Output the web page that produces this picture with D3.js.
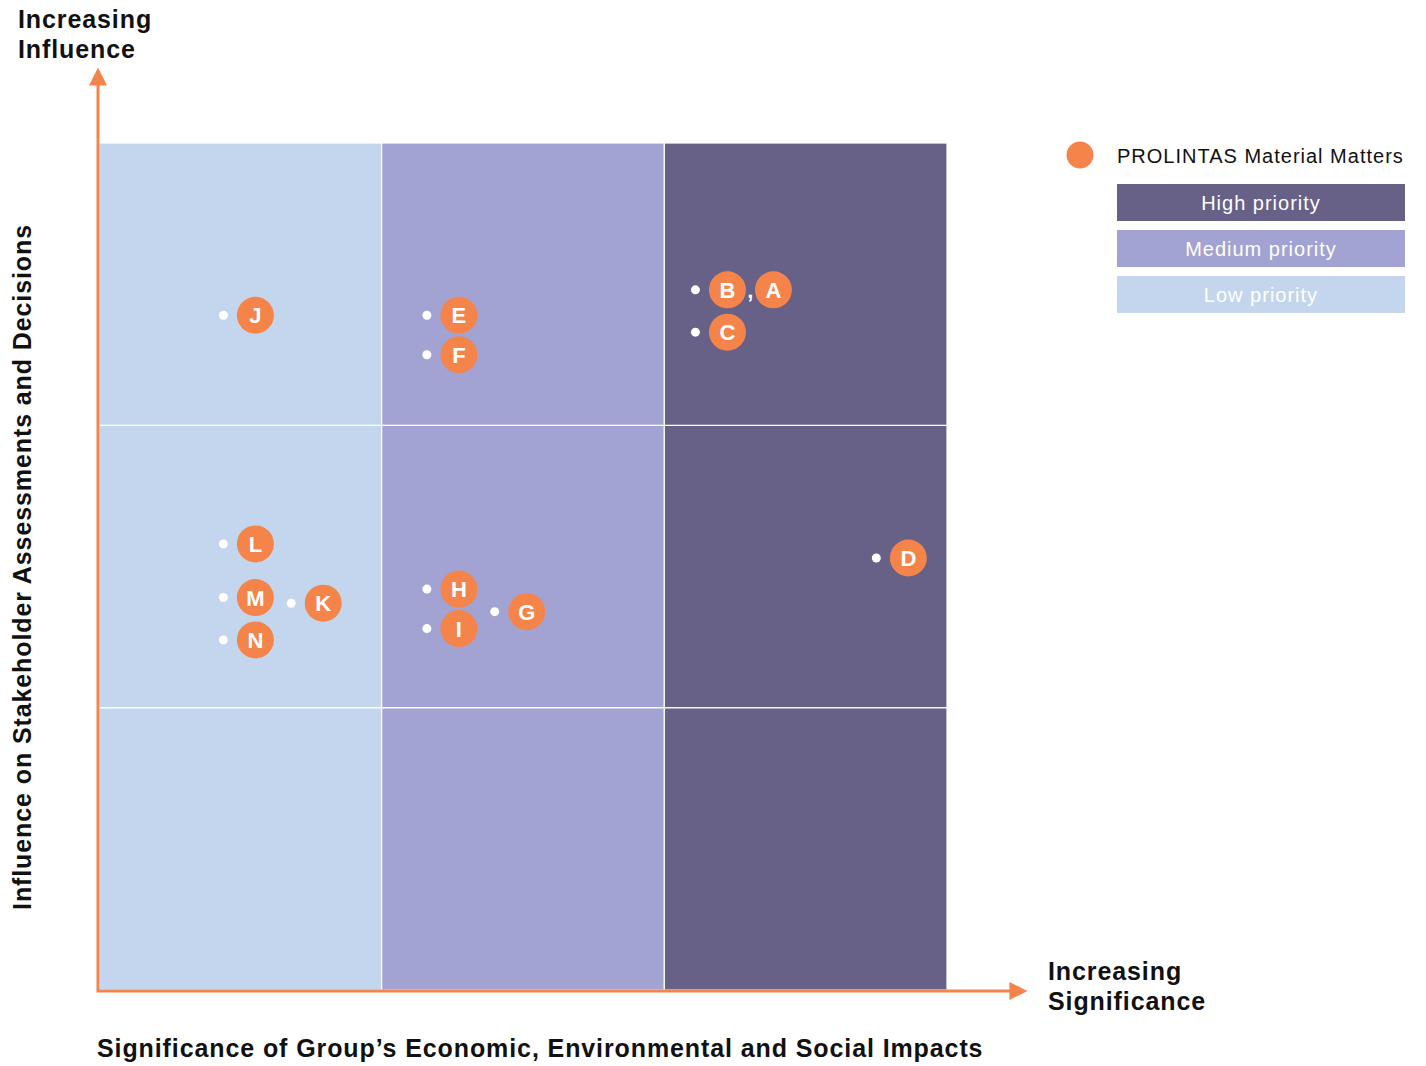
<!DOCTYPE html>
<html lang="en">
<head>
<meta charset="utf-8">
<script src="https://d3js.org/d3.v7.min.js"></script>
<style>
  body { margin: 0; background: #fff; }
  text { font-family: "Liberation Sans", Arial, sans-serif; }
</style>
</head>
<body>
<script>
  // priority bands by column (significance)
  const columns = ["Low", "Medium", "High"];
  const rows = ["Low", "Medium", "High"];
  const colColours = ["#c4d6ed", "#a2a3d3", "#676087"];

  // material matters: dot position in grid units (0-3), labels next to dot
  const matterLabels = [["J"], ["E"], ["F"], ["B", "A"], ["C"], ["D"], ["L"], ["M"], ["K"], ["N"], ["H"], ["I"], ["G"]];
  const matterX = [0.44, 1.16, 1.16, 2.11, 2.11, 2.75, 0.44, 0.44, 0.68, 0.44, 1.16, 1.16, 1.40];
  const matterY = [2.39, 2.39, 2.25, 2.48, 2.33, 1.53, 1.58, 1.39, 1.37, 1.24, 1.42, 1.28, 1.34];

  const legendItems = ["High priority", "Medium priority", "Low priority"];
  const legendColours = ["#676087", "#a2a3d3", "#c4d6ed"];

  const orange = "#f5844a";
  const W = 1426, H = 1066;
  const margin = {left: 99, top: 143};
  const plotW = 848, plotH = 847;

  const svg = d3.select("body").append("svg")
    .attr("width", W).attr("height", H);

  const x = d3.scaleLinear().domain([0, 3]).range([margin.left, margin.left + plotW]);
  const y = d3.scaleLinear().domain([0, 3]).range([margin.top + plotH, margin.top]);
  const band = d3.scaleBand().domain(columns).range([margin.left, margin.left + plotW]);
  const rowBand = d3.scaleBand().domain(rows.slice().reverse()).range([margin.top, margin.top + plotH]);

  // cells
  const cells = [];
  columns.forEach(function(c, i) {
    rows.forEach(function(r) { cells.push({col: c, row: r, colour: colColours[i]}); });
  });
  svg.append("g").selectAll("rect")
    .data(cells).enter().append("rect")
    .attr("x", function(d) { return band(d.col); })
    .attr("y", function(d) { return rowBand(d.row); })
    .attr("width", band.bandwidth())
    .attr("height", rowBand.bandwidth())
    .attr("fill", function(d) { return d.colour; })
    .attr("stroke", "#fff")
    .attr("stroke-width", 1.2);

  // axes
  svg.append("defs").append("marker")
    .attr("id", "arrow").attr("viewBox", "0 0 10 10")
    .attr("refX", 2).attr("refY", 5)
    .attr("markerWidth", 6).attr("markerHeight", 6)
    .attr("orient", "auto-start-reverse")
    .append("path").attr("d", "M0,0L10,5L0,10Z").attr("fill", orange);

  svg.append("line")
    .attr("x1", x(0) - 1).attr("y1", y(0))
    .attr("x2", x(0) - 1).attr("y2", 82)
    .attr("stroke", orange).attr("stroke-width", 3)
    .attr("marker-end", "url(#arrow)");
  svg.append("line")
    .attr("x1", x(0) - 2.5).attr("y1", y(0) + 1)
    .attr("x2", 1013).attr("y2", y(0) + 1)
    .attr("stroke", orange).attr("stroke-width", 3)
    .attr("marker-end", "url(#arrow)");

  // axis titles
  const bold = {"font-weight": "bold", "font-size": "25px", "fill": "#111", "letter-spacing": "0.9px"};
  function addText(g, tx, ty, str, extra) {
    const t = g.append("text").attr("x", tx).attr("y", ty).text(str);
    Object.entries(Object.assign({}, bold, extra || {})).forEach(function(e) { t.attr(e[0], e[1]); });
    return t;
  }
  addText(svg, 18, 28, "Increasing");
  addText(svg, 18, 58, "Influence");
  addText(svg, 1048, 980, "Increasing");
  addText(svg, 1048, 1010, "Significance");
  addText(svg, 97, 1057, "Significance of Group\u2019s Economic, Environmental and Social Impacts");
  addText(svg, 0, 0, "Influence on Stakeholder Assessments and Decisions")
    .attr("transform", "translate(31," + 567 + ") rotate(-90)")
    .attr("x", 0).attr("text-anchor", "middle");

  // matters
  const matters = matterLabels.map(function(l, i) { return {labels: l, x: matterX[i], y: matterY[i]}; });
  const mg = svg.append("g").selectAll("g").data(matters).enter().append("g")
    .attr("transform", function(d) { return "translate(" + x(d.x) + "," + y(d.y) + ")"; });
  mg.append("circle").attr("r", 4.5).attr("fill", "#fff");
  mg.each(function(d) {
    const g = d3.select(this);
    d.labels.forEach(function(lab, j) {
      const cx = 32 + j * 46;
      if (j > 0) {
        g.append("text").attr("x", cx - 23).attr("y", 8).attr("text-anchor", "middle")
          .attr("font-size", "22px").attr("font-weight", "bold").attr("fill", "#fff").text(",");
      }
      g.append("circle").attr("cx", cx).attr("r", 18.5).attr("fill", orange);
      g.append("text").attr("x", cx).attr("y", 8).attr("text-anchor", "middle")
        .attr("font-size", "22px").attr("font-weight", "bold").attr("fill", "#fff").text(lab);
    });
  });

  // legend
  const lg = svg.append("g");
  lg.append("circle").attr("cx", 1080).attr("cy", 155).attr("r", 13.5).attr("fill", orange);
  lg.append("text").attr("x", 1117).attr("y", 163).attr("font-size", "20px").attr("fill", "#111")
    .attr("letter-spacing", "1px")
    .text("PROLINTAS Material Matters");
  const ly = d3.scaleBand().domain(legendItems).range([184, 313]).paddingInner(0.196);
  const li = lg.selectAll("g.li").data(legendItems).enter().append("g").attr("class", "li");
  li.append("rect")
    .attr("x", 1117).attr("y", function(d) { return ly(d); })
    .attr("width", 288).attr("height", ly.bandwidth())
    .attr("fill", function(d, i) { return legendColours[i]; });
  li.append("text")
    .attr("x", 1261).attr("y", function(d) { return ly(d) + 26; })
    .attr("text-anchor", "middle").attr("font-size", "20px").attr("fill", "#fff")
    .attr("letter-spacing", "1px")
    .text(function(d) { return d; });
</script>
</body>
</html>
